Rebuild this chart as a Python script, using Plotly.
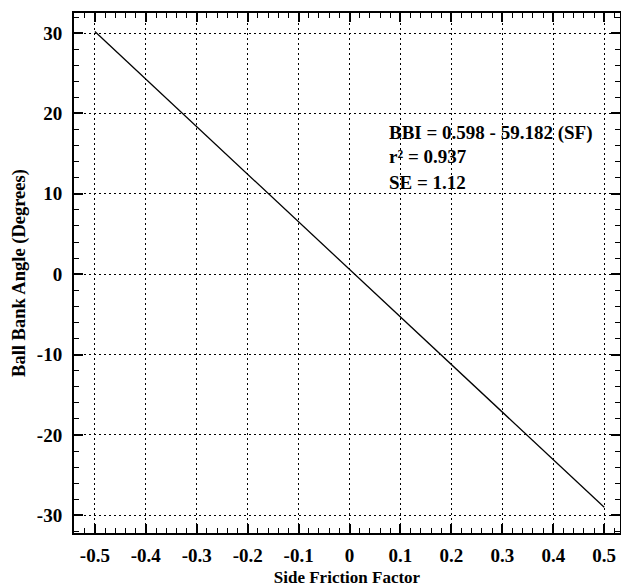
import plotly.graph_objects as go

sf = [-0.5, 0.5]
bbi = [30.189, -28.993]
x_ticks = [-0.5, -0.4, -0.3, -0.2, -0.1, 0, 0.1, 0.2, 0.3, 0.4, 0.5]
x_ticklabels = ["-0.5", "-0.4", "-0.3", "-0.2", "-0.1", "0", "0.1", "0.2", "0.3", "0.4", "0.5"]
y_ticks = [-30, -20, -10, 0, 10, 20, 30]
y_ticklabels = ["-30", "-20", "-10", "0", "10", "20", "30"]
stats_lines = ["BBI = 0.598 - 59.182 (SF)", "r² = 0.937", "SE = 1.12"]
stats_y = [17.55, 14.7, 11.35]

font_fam = "Liberation Serif"

fig = go.Figure()
fig.add_trace(go.Scatter(x=sf, y=bbi, mode="lines",
                         line=dict(color="black", width=1.3), showlegend=False))

axis_common = dict(
    showline=True, linecolor="black", linewidth=2, mirror="ticks",
    ticks="inside", tickcolor="black", tickwidth=1.5, ticklen=9,
    showgrid=True, gridcolor="black", griddash="1.5px,3.5px", gridwidth=1.3,
    zeroline=False, automargin=False,
    tickfont=dict(family=font_fam, size=19, color="black", weight="bold"),
)

fig.update_xaxes(
    range=[-0.541, 0.531], tickvals=x_ticks, ticktext=x_ticklabels,
    minor=dict(dtick=0.02, tick0=0, ticks="inside", ticklen=5, tickcolor="black",
               tickwidth=1.2, showgrid=False),
    title=dict(text="<b>Side Friction Factor</b>",
               font=dict(family=font_fam, size=17, color="black"), standoff=8),
    ticklabelstandoff=4,
    **axis_common,
)
fig.update_yaxes(
    range=[-32.2, 32.5], tickvals=y_ticks, ticktext=y_ticklabels,
    minor=dict(dtick=2, tick0=0, ticks="inside", ticklen=5, tickcolor="black",
               tickwidth=1.2, showgrid=False),
    title=dict(text="<b>Ball Bank Angle (Degrees)</b>",
               font=dict(family=font_fam, size=18.5, color="black"), standoff=6),
    ticklabelstandoff=6,
    **axis_common,
)

for t, yv in zip(stats_lines, stats_y):
    fig.add_annotation(x=0.074, y=yv, xref="x", yref="y", text=t,
                       showarrow=False, xanchor="left", yanchor="middle",
                       font=dict(family=font_fam, size=19, color="black", weight="bold"))

# the page body has an 8px margin, so the figure is sized/offset to fit the window
fig.update_layout(
    width=621, height=579,
    margin=dict(l=66, r=9, t=5, b=54),
    paper_bgcolor="white", plot_bgcolor="white",
)

fig.write_html("out.html")
